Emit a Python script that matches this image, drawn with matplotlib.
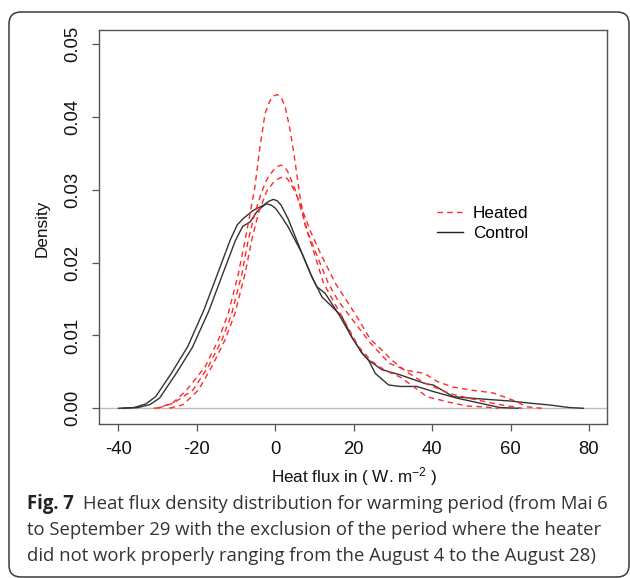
import matplotlib
matplotlib.use("Agg")
import matplotlib.pyplot as plt
from matplotlib.patches import FancyBboxPatch
from matplotlib.transforms import IdentityTransform

plt.rcParams["font.family"] = ["Liberation Sans", "DejaVu Sans"]
plt.rcParams["mathtext.fontset"] = "custom"
plt.rcParams["mathtext.rm"] = "Liberation Sans"
plt.rcParams["mathtext.it"] = "Liberation Sans"

# Heated plots (red dashed)
heated_1_x = [-31, -29.5, -26, -22.6, -17.9, -14.5, -12.0, -9.4, -7.7, -6.4, -5.2, -3.9, -2.6, -1.5, -0.5,
              0.5, 1.5, 2.5, 3.8, 5.1, 6.3, 7.6, 9.7, 12.3, 17, 21.2, 24.5, 28, 31.8, 35.2, 38.6, 44.6,
              49, 53, 57]
heated_1_y = [0, 0.0001, 0.0008, 0.0025, 0.0057, 0.0094, 0.013, 0.0185, 0.0231, 0.0268, 0.0304, 0.0359,
              0.0405, 0.0421, 0.0429, 0.0431, 0.0427, 0.0415, 0.0382, 0.0337, 0.0291, 0.0252, 0.0217,
              0.0172, 0.0126, 0.0085, 0.0065, 0.0052, 0.0043, 0.003, 0.0016, 0.0008, 0.0003, 0.0002, 0]
heated_2_x = [-30, -26, -21, -17.1, -13.6, -11.1, -8.5, -6.9, -5.2, -3.5, -2.2, -0.5, 0.5, 1.4, 2.3, 3.2,
              5.1, 8.4, 11, 13.5, 16, 19.1, 24.2, 29, 33.5, 38, 41.2, 45.4, 50, 55.6, 60.7, 64.2, 68]
heated_2_y = [0, 0.0007, 0.0025, 0.0057, 0.0094, 0.013, 0.0185, 0.0231, 0.0268, 0.0297, 0.0314, 0.0327,
              0.0332, 0.0334, 0.0332, 0.0325, 0.03, 0.024, 0.0205, 0.0172, 0.0148, 0.0126, 0.009, 0.0062,
              0.0052, 0.0048, 0.0037, 0.0029, 0.0025, 0.0021, 0.0011, 0.0002, 0]
heated_3_x = [-27, -23.5, -19.6, -16.2, -12.8, -10.3, -7.7, -6.0, -4.3, -2.2, -0.5, 1.0, 2.1, 3.0, 4.0,
              5.5, 9, 11.5, 15.3, 20.8, 24.2, 27.2, 30, 33.5, 38, 44.6, 50, 57.3, 63]
heated_3_y = [0, 0.0005, 0.0025, 0.0057, 0.0094, 0.013, 0.0185, 0.0231, 0.0268, 0.0298, 0.031, 0.0316,
              0.0318, 0.0316, 0.0308, 0.0292, 0.0243, 0.0213, 0.0172, 0.0126, 0.0095, 0.008, 0.0065,
              0.005, 0.0035, 0.002, 0.0013, 0.0005, 0]

# Control plots (black solid)
control_1_x = [-40, -36, -33, -30.5, -26.5, -22.3, -18.2, -14, -11.5, -9.7, -8.1, -5.6, -3, -1.8, -0.5,
               0.5, 1.5, 3.3, 6.8, 9.3, 10.6, 12.7, 16.1, 19.5, 22.1, 23.8, 27.2, 31.8, 38.2, 40.3, 45.4,
               52, 59.9, 65, 70, 75, 78.6]
control_1_y = [0, 0.0001, 0.0006, 0.0016, 0.0048, 0.0085, 0.0135, 0.0195, 0.0231, 0.0252, 0.0261, 0.0272,
               0.0279, 0.0284, 0.0287, 0.0285, 0.0279, 0.026, 0.0213, 0.0181, 0.0167, 0.0158, 0.013,
               0.0098, 0.0076, 0.0066, 0.0053, 0.0046, 0.0034, 0.0032, 0.0016, 0.0013, 0.001, 0.0007,
               0.00045, 0.0001, 0]
control_2_x = [-39, -35, -32, -29.5, -25.5, -21.2, -17, -12.8, -10.2, -8.3, -6.4, -4.7, -3.3, -2.2, -1,
               0, 1.5, 3.3, 6.8, 9.3, 10.6, 11.9, 14.4, 17, 19.5, 22.1, 23.8, 25.5, 28.9, 31.8, 36.1, 40.3,
               46.3, 50.5, 57.3, 62]
control_2_y = [0, 0.0001, 0.0005, 0.0014, 0.0046, 0.0083, 0.0133, 0.0193, 0.023, 0.025, 0.0256, 0.027,
               0.0277, 0.0281, 0.0279, 0.0275, 0.0264, 0.0249, 0.0213, 0.0181, 0.0167, 0.0153, 0.014,
               0.0126, 0.0098, 0.0076, 0.0066, 0.0048, 0.0032, 0.003, 0.003, 0.0023, 0.0014, 0.0009,
               0.0001, 0]

x_ticks = [-40, -20, 0, 20, 40, 60, 80]
y_ticks = [0.00, 0.01, 0.02, 0.03, 0.04, 0.05]
y_tick_labels = ["0.00", "0.01", "0.02", "0.03", "0.04", "0.05"]

caption_bold = "Fig. 7"
caption_lines = [
    "Heat flux density distribution for warming period (from Mai 6",
    "to September 29 with the exclusion of the period where the heater",
    "did not work properly ranging from the August 4 to the August 28)",
]

W, H = 630, 578
fig = plt.figure(figsize=(W / 100, H / 100), dpi=100)
fig.patch.set_facecolor("white")

# rounded frame around figure + caption
frame = FancyBboxPatch((9, 1), 620, 565, boxstyle="round,pad=0,rounding_size=12",
                       transform=IdentityTransform(), facecolor="none", edgecolor="#3a3a3a",
                       linewidth=1.1)
fig.patches.append(frame)

ax = fig.add_axes([99 / W, 1 - 424 / H, (607 - 99) / W, (424 - 30) / H])
ax.axhline(0, color="#bdbdbd", lw=1.0, zorder=1)

dash = (0, (4, 3))
for xs, ys in [(heated_1_x, heated_1_y), (heated_2_x, heated_2_y), (heated_3_x, heated_3_y)]:
    ax.plot(xs, ys, color="#ff2a2a", lw=1.0, linestyle=dash, zorder=3)
for xs, ys in [(control_1_x, control_1_y), (control_2_x, control_2_y)]:
    ax.plot(xs, ys, color="#333333", lw=1.0, zorder=2)

ax.set_xlim(-44.95, 84.6)
ax.set_ylim(-0.00216, 0.05197)
ax.set_xticks(x_ticks)
ax.set_xticklabels([str(v) for v in x_ticks])
ax.set_yticks(y_ticks)
ax.set_yticklabels(y_tick_labels, rotation=90, va="center")
ax.tick_params(direction="out", length=5, width=0.9, color="#555555", labelsize=13.3,
               labelcolor="#111111")
ax.tick_params(axis="y", pad=8)
ax.tick_params(axis="x", pad=7)
for s in ax.spines.values():
    s.set_color("#555555")
    s.set_linewidth(1.0)

# legend drawn as proxy handles
h1, = ax.plot([], [], color="#ff2a2a", lw=1.0, linestyle=dash)
h2, = ax.plot([], [], color="#222222", lw=1.0)
leg = ax.legend([h1, h2], ["Heated", "Control"], loc="upper left",
                bbox_to_anchor=(437 / W, 1 - 206 / H), bbox_transform=fig.transFigure,
                frameon=False, fontsize=12.3, handlelength=1.5, handletextpad=0.6,
                labelspacing=0.3, borderpad=0, borderaxespad=0)

fig.text(42 / W, 1 - 228 / H, "Density", rotation=90, ha="center", va="center", fontsize=12.3,
         color="#111111")
fig.text(354 / W, 1 - 477 / H, "Heat flux in ( W. m$^{-2}$ )", ha="center", va="center",
         fontsize=12.3, color="#111111")

# caption
cap_font = ["Open Sans", "DejaVu Sans"]
cap_size = 13.35
baselines = [509, 535, 561]
tb = fig.text(27 / W, 1 - baselines[0] / H, caption_bold, fontweight="bold", family=cap_font,
              fontsize=cap_size, va="baseline", color="#222222")
fig.canvas.draw()
bb = tb.get_window_extent()
fig.text((bb.x1 + 9) / W, 1 - baselines[0] / H, caption_lines[0], family=cap_font,
         fontsize=cap_size, va="baseline", color="#333333")
for line, b in zip(caption_lines[1:], baselines[1:]):
    fig.text(27 / W, 1 - b / H, line, family=cap_font, fontsize=cap_size, va="baseline",
             color="#333333")

fig.savefig("out.png", dpi=100)
